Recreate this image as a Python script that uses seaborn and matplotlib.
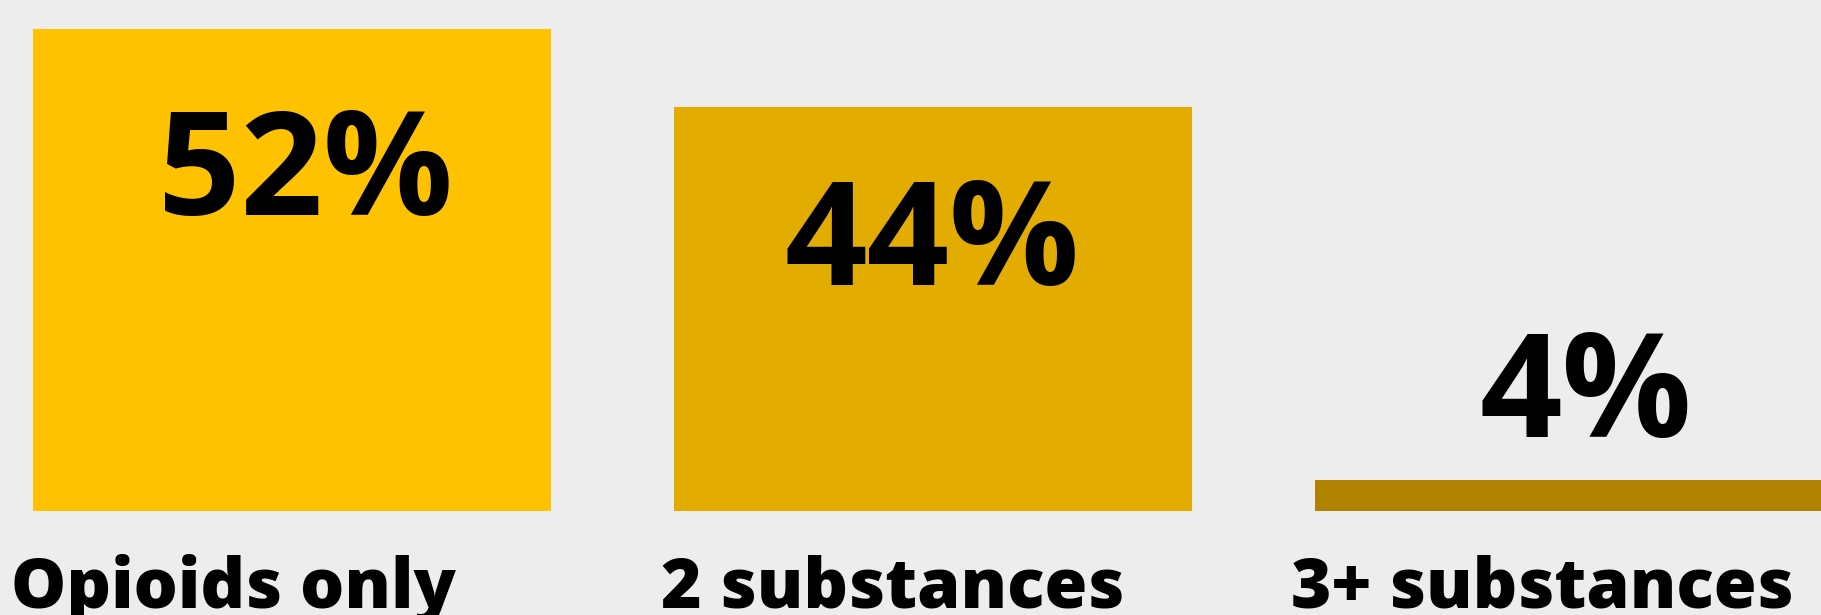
import matplotlib
matplotlib.use("Agg")
import pandas as pd
import seaborn as sns
from matplotlib import pyplot as plt

# values (bar heights, in %)
categories = ["Opioids only", "2 substances", "3+ substances"]
shares = [52.5, 44.0, 3.4]
share_labels = ["52%", "44%", "4%"]
bar_colors = ["#FFC200", "#E3AC00", "#AF8200"]

BG = "#EDEDED"
DPI = 100
PT = 72 / DPI  # pixels -> points

df = pd.DataFrame({"category": categories, "share": shares})

sns.set_theme(style="white")
plt.rcParams["font.family"] = ["DejaVu Sans"]

fig = plt.figure(figsize=(18.21, 6.15), dpi=DPI, facecolor=BG)
ax = fig.add_axes([0, 104 / 615, 1, 482 / 615])
ax.set_facecolor(BG)

sns.barplot(data=df, x="category", y="share", hue="category",
            palette=bar_colors, legend=False, width=0.808,
            saturation=1, linewidth=0, ax=ax)

ax.set_xlim(-0.4555, 2.385)
ax.set_ylim(0, 52.5)
ax.axis("off")

# percentage labels: inside the tall bars, above the short one
num_offsets = [(14, -186), (-1, -178), (12, 43)]
for i, (val, lab) in enumerate(zip(shares, share_labels)):
    dx, dy = num_offsets[i]
    ax.annotate(lab, xy=(i, val), xytext=(dx * PT, dy * PT),
                textcoords="offset points", ha="center", va="baseline",
                fontsize=104, fontweight="bold", family="Open Sans",
                color="black")

# category names below the bars, left aligned
cat_offsets = [-22, -13, -24]
for i, cat in enumerate(categories):
    ax.annotate(cat, xy=(i - 0.404, 0), xytext=(cat_offsets[i] * PT, -97 * PT),
                textcoords="offset points", ha="left", va="baseline",
                fontsize=50, fontweight="heavy", family="Open Sans",
                color="black", annotation_clip=False)

fig.savefig("out.png", dpi=DPI, facecolor=BG)
